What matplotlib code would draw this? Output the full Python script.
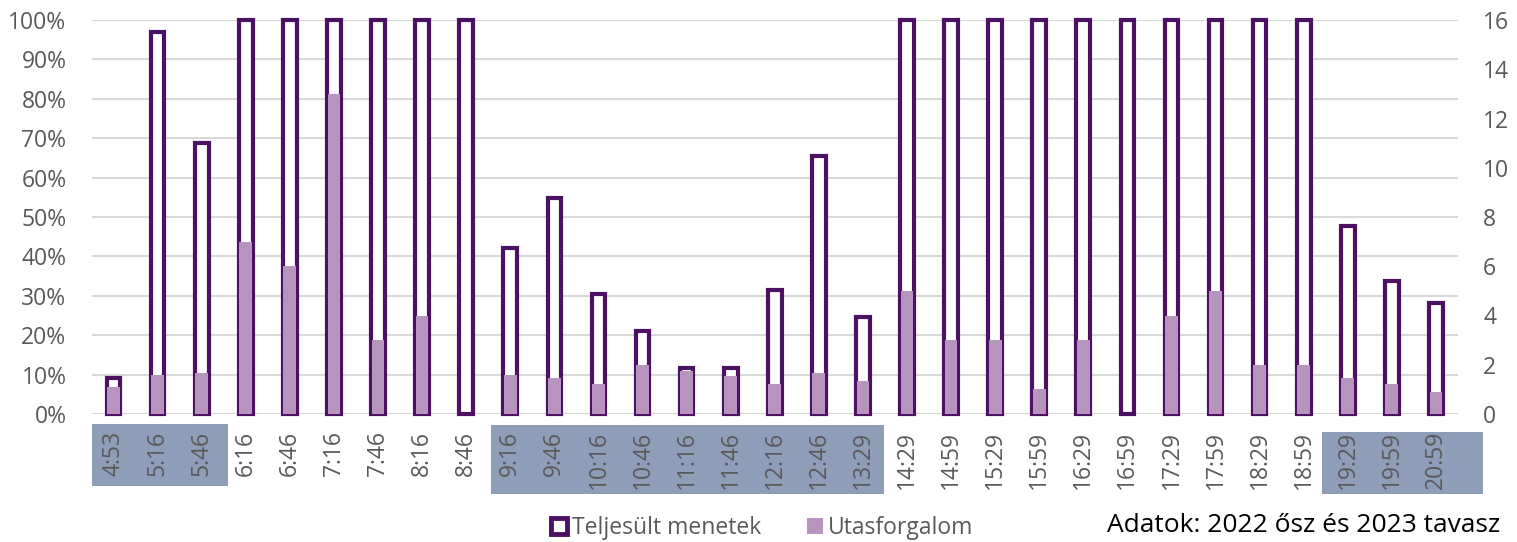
import matplotlib.pyplot as plt
import matplotlib.transforms as mtransforms
from matplotlib.patches import Rectangle, Patch
import numpy as np

plt.rcParams['font.family'] = ['Open Sans', 'DejaVu Sans']

# departure times
times = ["4:53", "5:16", "5:46", "6:16", "6:46", "7:16", "7:46", "8:16", "8:46",
         "9:16", "9:46", "10:16", "10:46", "11:16", "11:46", "12:16", "12:46", "13:29",
         "14:29", "14:59", "15:29", "15:59", "16:29", "16:59", "17:29", "17:59",
         "18:29", "18:59", "19:29", "19:59", "20:59"]

# completed runs (%), left axis
teljesult = [9.1, 97, 68.8, 100, 100, 100, 100, 100, 100,
             42.1, 54.8, 30.5, 21.1, 11.7, 11.7, 31.5, 65.5, 24.6,
             100, 100, 100, 100, 100, 100, 100, 100,
             100, 100, 47.7, 33.8, 28.2]

# passenger traffic, right axis
utas = [1.1, 1.6, 1.65, 7.0, 6.0, 13.0, 3.0, 4.0, 0,
        1.6, 1.45, 1.2, 2.0, 1.75, 1.55, 1.2, 1.65, 1.35,
        5.0, 3.0, 3.0, 1.0, 3.0, 0, 4.0, 5.0,
        2.0, 2.0, 1.45, 1.2, 0.9]

dark = '#4D1163'
light = '#B794BD'
grey = '#595959'
boxc = '#8E9DB8'
fs = 16.5

W, H = 1517, 542
fig = plt.figure(figsize=(W / 100, H / 100), dpi=100)
ax = fig.add_axes([91.5 / W, (H - 414) / H, (1458 - 91.5) / W, 394 / H])
ax2 = ax.twinx()

x = np.arange(len(times))

ax.set_axisbelow(True)
ax.yaxis.grid(True, color='#D9D9D9', lw=1.5)
ax.bar(x, np.array(teljesult) / 100, width=0.31, facecolor='white',
       edgecolor=dark, linewidth=3, clip_on=False, zorder=2)
ax2.bar(x, utas, width=0.29, color=light, zorder=3)

ax.set_xlim(-0.5, len(times) - 0.5)
ax.set_ylim(0, 1)
ax2.set_ylim(0, 16)
ax.set_yticks(np.arange(0, 1.01, 0.1))
ax.set_yticklabels([f"{int(round(v * 100))}%" for v in np.arange(0, 1.01, 0.1)])
ax2.set_yticks(np.arange(0, 17, 2))
ax.set_xticks(x)
ax.set_xticklabels(times, rotation=90, va='top')

ax.tick_params(axis='y', length=0, pad=18, labelsize=fs, labelcolor=grey)
ax2.tick_params(axis='y', length=0, pad=18, labelsize=fs, labelcolor=grey)
ax.tick_params(axis='x', length=0, pad=12, labelsize=fs, labelcolor=grey)
for a in (ax, ax2):
    for s in a.spines.values():
        s.set_visible(False)

# shaded boxes behind the tick labels
trans = mtransforms.blended_transform_factory(ax.transData, ax.transAxes)
box_y = [(-0.0254, -0.183), (-0.028, -0.203), (-0.0457, -0.203)]
box_x = [(-0.5, 2.6), (8.56, 17.48), (27.41, 31.07)]
for (x0, x1), (y0, y1) in zip(box_x, box_y):
    r = Rectangle((x0, y1), x1 - x0, y0 - y1, transform=trans,
                  facecolor=boxc, edgecolor='none', zorder=-1)
    fig.add_artist(r)

handles = [Patch(facecolor='white', edgecolor=dark, linewidth=3.5),
           Patch(facecolor=light, edgecolor='none')]
fig.legend(handles, ["Teljesült menetek", "Utasforgalom"], loc='center',
           bbox_to_anchor=(762 / W, (H - 528) / H), ncol=2, frameon=False,
           handlelength=0.7, handleheight=0.7, handletextpad=0.2,
           columnspacing=2.0, fontsize=fs, labelcolor=grey)

fig.text(1500 / W, (H - 525) / H, "Adatok: 2022 ősz és 2023 tavasz",
         ha='right', va='center', fontsize=19, color='black')

fig.savefig('out.png', dpi=100)
